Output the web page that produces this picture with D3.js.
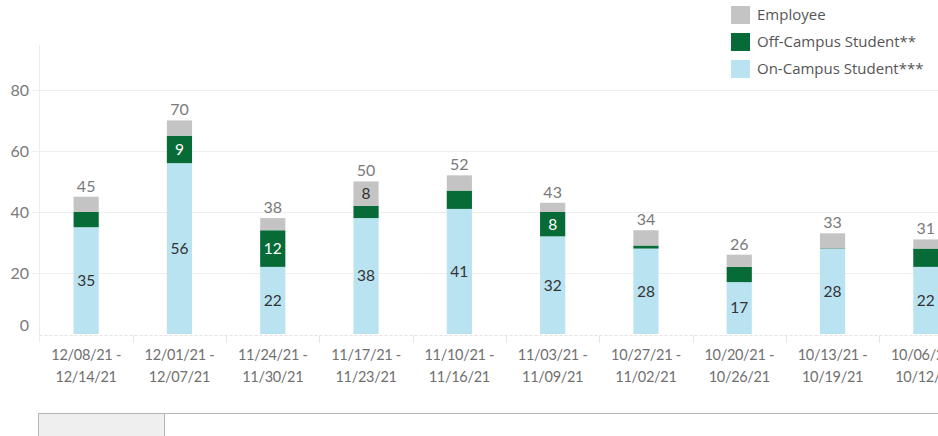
<!DOCTYPE html>
<html>
<head>
<meta charset="utf-8">
<style>
  body { margin: 0; background: #fff; }
  svg { display: block; font-family: "Lato", "Open Sans", sans-serif; }
</style>
</head>
<body>
<svg width="938" height="436"></svg>
<script src="https://d3js.org/d3.v7.min.js"></script>
<script>
// weekly counts
var weeks = ["12/08/21 - 12/14/21", "12/01/21 - 12/07/21", "11/24/21 - 11/30/21",
             "11/17/21 - 11/23/21", "11/10/21 - 11/16/21", "11/03/21 - 11/09/21",
             "10/27/21 - 11/02/21", "10/20/21 - 10/26/21", "10/13/21 - 10/19/21",
             "10/06/21 - 10/12/21"];
var onCampus  = [35, 56, 22, 38, 41, 32, 28, 17, 28, 22];
var offCampus = [5, 9, 12, 4, 6, 8, 1, 5, 0, 6];
var employee  = [5, 5, 4, 8, 5, 3, 5, 4, 5, 3];
var yTicks = [0, 20, 40, 60, 80];

var seriesNames = ["On-Campus Student***", "Off-Campus Student**", "Employee"];
var colors = {"On-Campus Student***": "#bae3f1", "Off-Campus Student**": "#076b38", "Employee": "#c4c4c4"};
var textColors = {"On-Campus Student***": "#333", "Off-Campus Student**": "#fff", "Employee": "#333"};

var rows = weeks.map(function(w, i) {
  return {week: w, "On-Campus Student***": onCampus[i], "Off-Campus Student**": offCampus[i], "Employee": employee[i]};
});

var svg = d3.select("svg");
var plotLeft = 39.5, plotBottom = 334, plotTop = 42;

var x = d3.scaleBand().domain(weeks).range([plotLeft, plotLeft + 93.3 * weeks.length]).paddingInner(0.73).paddingOuter(0.365);
var y = d3.scaleLinear().domain([0, 95.7]).range([plotBottom, plotTop]);

// gridlines
svg.append("g").selectAll("line").data(yTicks.filter(function(d) { return d > 0; })).enter().append("line")
  .attr("x1", 32).attr("x2", 938)
  .attr("y1", function(d) { return Math.round(y(d)) + 0.5; })
  .attr("y2", function(d) { return Math.round(y(d)) + 0.5; })
  .attr("stroke", "#efefef");

// y axis line
svg.append("line").attr("x1", plotLeft).attr("x2", plotLeft).attr("y1", 45).attr("y2", 342).attr("stroke", "#ececec");

// y tick labels
svg.append("g").selectAll("text").data(yTicks).enter().append("text")
  .attr("x", 29).attr("y", function(d) { return d === 0 ? y(d) - 9 : y(d); })
  .attr("dy", "0.35em").attr("text-anchor", "end")
  .attr("fill", "#7a7a7a").attr("font-size", 16)
  .text(function(d) { return d; });

// bottom dashed line and column ticks
svg.append("line").attr("x1", plotLeft).attr("x2", 938).attr("y1", 335.5).attr("y2", 335.5)
  .attr("stroke", "#e2e2e2").attr("stroke-dasharray", "3,2");
svg.append("g").selectAll("line").data(weeks.slice(1)).enter().append("line")
  .attr("x1", function(d) { return Math.round(x(d) - x.step() * x.paddingInner() / 2) + 0.5; })
  .attr("x2", function(d) { return Math.round(x(d) - x.step() * x.paddingInner() / 2) + 0.5; })
  .attr("y1", 335).attr("y2", 343).attr("stroke", "#e6e6e6");

// stacked bars
var stack = d3.stack().keys(seriesNames)(rows);
var layers = svg.append("g").selectAll("g").data(stack).enter().append("g")
  .attr("fill", function(s) { return colors[s.key]; });
layers.selectAll("rect").data(function(s) { return s; }).enter().append("rect")
  .attr("x", function(d) { return x(d.data.week); })
  .attr("width", x.bandwidth())
  .attr("y", function(d) { return y(d[1]) - (d[1] === d[0] ? 1 : 0); })
  .attr("height", function(d) { return Math.max(1, y(d[0]) - y(d[1])); });

// segment labels where they fit
layers.each(function(s) {
  d3.select(this).selectAll("text").data(s.filter(function(d) { return y(d[0]) - y(d[1]) >= 20; }))
    .enter().append("text")
    .attr("x", function(d) { return x(d.data.week) + x.bandwidth() / 2; })
    .attr("y", function(d) { return (y(d[0]) + y(d[1])) / 2; })
    .attr("dy", "0.35em").attr("text-anchor", "middle")
    .attr("font-size", 15.5).attr("fill", textColors[s.key])
    .text(function(d) { return d[1] - d[0]; });
});

// totals
svg.append("g").selectAll("text").data(rows).enter().append("text")
  .attr("x", function(d) { return x(d.week) + x.bandwidth() / 2; })
  .attr("y", function(d, i) { return y(onCampus[i] + offCampus[i] + employee[i]) - 5; })
  .attr("text-anchor", "middle").attr("font-size", 16).attr("fill", "#7a7a7a")
  .text(function(d, i) { return onCampus[i] + offCampus[i] + employee[i]; });

// x labels, two lines
var xl = svg.append("g").selectAll("text").data(weeks).enter().append("text")
  .attr("text-anchor", "middle").attr("font-size", 14.5).attr("letter-spacing", "-0.3px")
  .attr("fill", "#707070");
xl.append("tspan")
  .attr("x", function(d) { return x(d) + x.bandwidth() / 2; }).attr("y", 360)
  .text(function(d) { return d.split(" - ")[0] + " -"; });
xl.append("tspan")
  .attr("x", function(d) { return x(d) + x.bandwidth() / 2; }).attr("y", 382)
  .text(function(d) { return d.split(" - ")[1]; });

// scrollbar
svg.append("rect").attr("x", 38.5).attr("y", 413.5).attr("width", 905).attr("height", 30)
  .attr("fill", "#fff").attr("stroke", "#b5b5b5");
svg.append("rect").attr("x", 38.5).attr("y", 413.5).attr("width", 126).attr("height", 30)
  .attr("fill", "#efefef").attr("stroke", "#b5b5b5");

// legend
var legendOrder = ["Employee", "Off-Campus Student**", "On-Campus Student***"];
var lg = svg.append("g").selectAll("g").data(legendOrder).enter().append("g")
  .attr("transform", function(d, i) { return "translate(731," + (6 + i * 27) + ")"; });
lg.append("rect").attr("width", 19).attr("height", 18).attr("fill", function(d) { return colors[d]; });
lg.append("text").attr("x", 26).attr("y", 9).attr("dy", "0.35em")
  .attr("font-family", "Open Sans")
  .attr("font-size", 15).attr("fill", "#555").text(function(d) { return d; });
</script>
</body>
</html>
